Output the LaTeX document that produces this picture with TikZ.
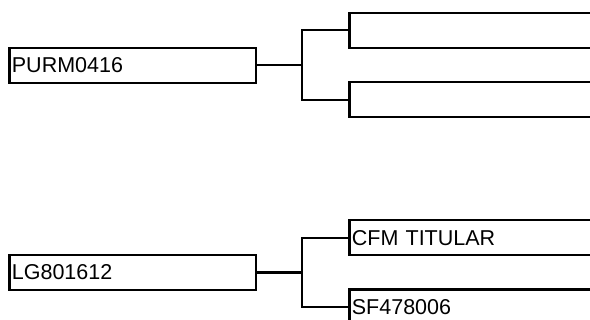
\documentclass[tikz,border=0pt]{standalone}
\usepackage{fontspec}
\newfontfamily\treefont{Liberation Sans}
\usepackage{xcolor}
\definecolor{TreeInk}{HTML}{000000}
\definecolor{TreePaper}{HTML}{FFFFFF}
\usepackage{tikz}
\usetikzlibrary{positioning,calc}
\tikzset{
  tbox/.style={draw=TreeInk,fill=TreePaper,line width=2.2pt,anchor=west,align=left,inner xsep=2.5pt,inner ysep=0pt,minimum height=35pt,font=\treefont\fontsize{21.5}{24}\selectfont},
  troot/.style={tbox,text width=241.7pt},
  tleaf/.style={tbox,text width=300pt},
  tlink/.style={draw=TreeInk,line width=2.2pt}
}

\begin{document}
\begin{tikzpicture}[x=1pt,y=-1pt]
  \useasboundingbox (0,0) rectangle (590,320);
  \clip (0,0) rectangle (590,320);
  % first tree
  \node[troot] (purm) at (8.3,65.2) {PURM0416};
  \node[tleaf] (purmA) at (348.3,30.2) {};
  \node[tleaf] (purmB) at (348.3,99.7) {};
  \coordinate (purmFork) at (301.7,65.2);
  \draw[tlink] (purm.east) -- (purmFork);
  \draw[tlink] (purmA.west) -| (purmFork) |- (purmB.west);
  % second tree
  \node[troot] (lg) at (8.3,272.5) {LG801612};
  \node[tleaf] (lgA) at (348.3,237.7) {CFM TITULAR};
  \node[tleaf] (lgB) at (348.3,307) {SF478006};
  \coordinate (lgFork) at (301.7,272.5);
  \draw[tlink] (lg.east) -- (lgFork);
  \draw[tlink] (lgA.west) -| (lgFork) |- (lgB.west);
\end{tikzpicture}
\end{document}
